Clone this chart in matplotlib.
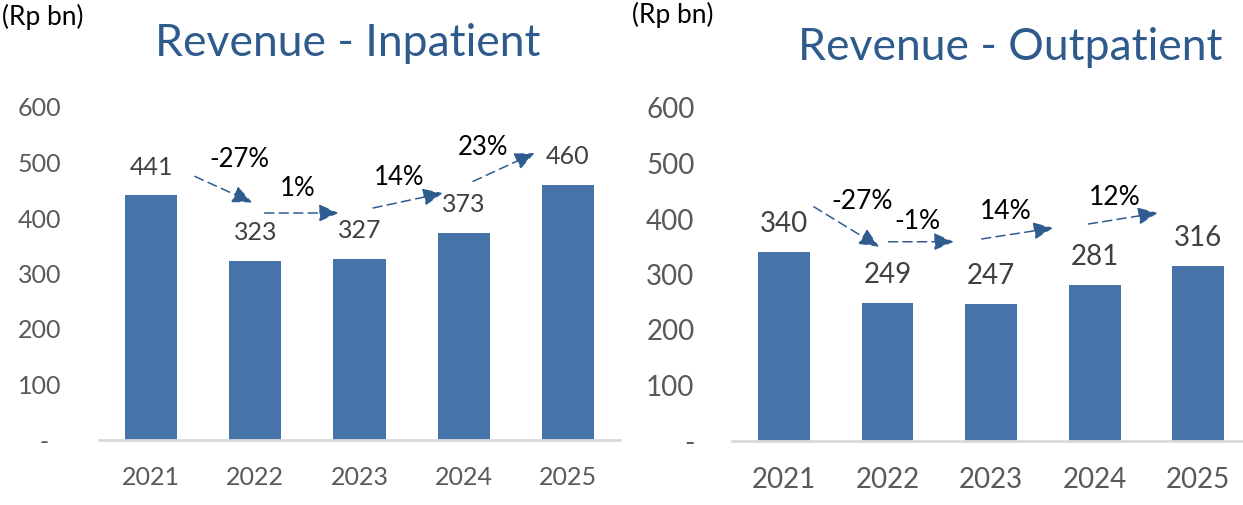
import matplotlib
matplotlib.use("Agg")
import matplotlib.pyplot as plt

plt.rcParams['font.family'] = ['Lato', 'DejaVu Sans']

years = ["2021", "2022", "2023", "2024", "2025"]
inpatient = [441, 323, 327, 373, 460]
outpatient = [340, 249, 247, 281, 316]

inp_growth = ["-27%", "1%", "14%", "23%"]
out_growth = ["-27%", "-1%", "14%", "12%"]

# annotation geometry (category units, value units): text pos, arrow start, arrow end
inp_text_pos = [(0.85, 506), (1.41, 454), (2.38, 473), (3.19, 527)]
inp_arrow_start = [(0.42, 475), (1.09, 409), (2.13, 418), (3.09, 466)]
inp_arrow_end = [(0.97, 428), (1.80, 409), (2.80, 445), (3.68, 517)]

out_text_pos = [(0.76, 431), (1.29, 395), (2.14, 413), (3.19, 438)]
out_arrow_start = [(0.29, 422), (1.01, 359), (1.91, 364), (2.94, 391)]
out_arrow_end = [(0.92, 350), (1.64, 359), (2.60, 384), (3.61, 411)]

BAR = "#4673A8"
TITLE = "#2E5A8C"
ARROW = "#2F5C8F"
TICK = "#595959"
VAL = "#404040"

W, H = 1243, 505
fig = plt.figure(figsize=(W / 100, H / 100), dpi=100)


def px_axes(x0, x1, ybase, ytop):
    return fig.add_axes([x0 / W, (H - ybase) / H, (x1 - x0) / W, (ybase - ytop) / H])


def draw(ax, values, growth, tpos, astart, aend, fs, yfs, pfs, zero_label, title, tx, ty, rx, ry, tfs):
    x = list(range(len(years)))
    ax.bar(x, values, width=0.5, color=BAR, zorder=2)
    ax.set_xlim(-0.5, 4.5)
    ax.set_ylim(0, 600)
    ax.set_yticks([0, 100, 200, 300, 400, 500, 600])
    ax.set_yticklabels([zero_label, "100", "200", "300", "400", "500", "600"])
    ax.set_xticks(x)
    ax.set_xticklabels(years)
    for s in ["top", "right", "left"]:
        ax.spines[s].set_visible(False)
    ax.spines["bottom"].set_color("#D9D9D9")
    ax.spines["bottom"].set_linewidth(2)
    ax.tick_params(axis="y", length=0, pad=27, labelsize=yfs, labelcolor=TICK)
    ax.tick_params(axis="x", length=0, pad=19, labelsize=fs, labelcolor=TICK)
    for xi, v in zip(x, values):
        ax.annotate(str(v), (xi, v), xytext=(0, 28), textcoords="offset pixels",
                    ha="center", va="center", fontsize=yfs, color=VAL)
    for g, tp, s, e in zip(growth, tpos, astart, aend):
        ax.text(tp[0], tp[1], g, ha="center", va="center", fontsize=pfs, color="black")
        ax.annotate("", xy=e, xytext=s,
                    arrowprops=dict(arrowstyle="-|>,head_length=0.8,head_width=0.35",
                                    linestyle=(0, (6, 3.5)), color=ARROW, lw=1.1,
                                    mutation_scale=15, shrinkA=0, shrinkB=0))
    fig.text(tx / W, 1 - ty / H, title, ha="center", va="center", fontsize=tfs, color=TITLE)
    fig.text(rx / W, 1 - ry / H, "(Rp bn)", ha="left", va="center", fontsize=19, color="black")


ax1 = px_axes(99, 620, 440, 107)
draw(ax1, inpatient, inp_growth, inp_text_pos, inp_arrow_start, inp_arrow_end,
     18, 18, 18.5, "-  ", "Revenue - Inpatient", 348, 43, 2, 17, 32)

ax2 = px_axes(732, 1250, 441, 108)
draw(ax2, outpatient, out_growth, out_text_pos, out_arrow_start, out_arrow_end,
     20, 20, 19, "-", "Revenue - Outpatient", 1010, 47, 632, 15, 32)

fig.savefig("out.png", dpi=100)
